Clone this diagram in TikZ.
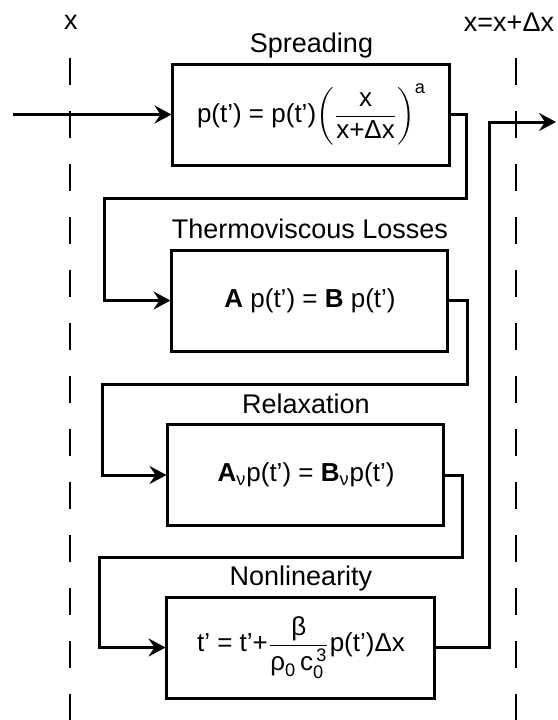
\documentclass[tikz,border=0pt]{standalone}
\usepackage{amsmath}
\usepackage{fontspec}
\setmainfont{Liberation Sans}
\usetikzlibrary{positioning}
\usetikzlibrary{arrows.meta}
\tikzset{
        treenode/.style={align=center,inner sep=0pt},
        % Stage boxes
        node_stage/.style={treenode, rectangle, draw=black, line width=1.5pt, minimum width=#1, minimum height=50.5pt, font=\fontsize{13}{15}\selectfont},
        % Stage titles
        node_title/.style={treenode, anchor=base, font=\fontsize{13.5}{16}\selectfont},
        % Plane labels
        node_plane/.style={treenode, font=\fontsize{13.5}{16}\selectfont},
        % Planes at x and x+dx
        plane_line/.style={line width=1.3pt, dash pattern=on 13.5pt off 13pt},
        % Signal path
        flow/.style={line width=1.5pt, -{Stealth[length=8.5pt,width=9pt,inset=3pt]}}
}
\begin{document}
\begin{tikzpicture}[x=0.5pt, y=-0.5pt]
            \useasboundingbox (0,0) rectangle (558,720);
            % planes
            \coordinate (xtop) at (70,58);
            \coordinate (xbot) at (70,720);
            \coordinate (dxtop) at (516,58);
            \coordinate (dxbot) at (516,720);
            \draw[plane_line] (xtop) -- (xbot);
            \draw[plane_line] (dxtop) -- (dxbot);
            \node[node_plane] (xlabel) at (71,22) {x};
            \node[node_plane] (dxlabel) at (509,22) {x=x+Δx};
            % stages
            \node[node_stage=138.5pt] (spread) at (311.5,114.5)
                {p(t') = p(t')$\biggl(\dfrac{\text{x}}{\text{x+Δx}}\biggr)^{\text{a}}$};
            \node[node_stage=138pt] (thermo) at (310,300.5)
                {{\bfseries A} p(t') = {\bfseries B} p(t')};
            \node[node_stage=138pt] (relax) at (306,475)
                {$\text{\bfseries A}_{\text{ν}}$p(t') = $\text{\bfseries B}_{\text{ν}}$p(t')};
            \node[node_stage=134pt] (nonlin) at (301,647.5)
                {t' = t'+$\dfrac{\text{β}}{\text{ρ}_{\text{0}}\,\text{c}_{\text{0}}^{\,\text{3}}}$p(t')Δx};
            \node[node_title] (spreadtitle) at ([yshift=5pt]spread.north) {Spreading};
            \node[node_title] (thermotitle) at ([yshift=5pt]thermo.north) {Thermoviscous Losses};
            \node[node_title] (relaxtitle) at ([yshift=5pt]relax.north) {Relaxation};
            \node[node_title] (nonlintitle) at ([yshift=5pt]nonlin.north) {Nonlinearity};
            % connectors
            \coordinate (inlet) at (13,114.5);
            \coordinate (r1) at (467,198);
            \coordinate (l1) at (105,198);
            \coordinate (r2) at (468,384);
            \coordinate (l2) at (103,384);
            \coordinate (r3) at (463,557);
            \coordinate (l3) at (100,557);
            \coordinate (ret) at (490,122);
            \coordinate (outlet) at (556,122);
            \draw[flow] (inlet) -- (spread.west);
            \draw[flow] (spread.east) -| (r1) -- (l1) |- (thermo.west);
            \draw[flow] (thermo.east) -| (r2) -- (l2) |- (relax.west);
            \draw[flow] (relax.east) -| (r3) -- (l3) |- (nonlin.west);
            \draw[flow] (nonlin.east) -| (ret) -- (outlet);
\end{tikzpicture}
\end{document}
